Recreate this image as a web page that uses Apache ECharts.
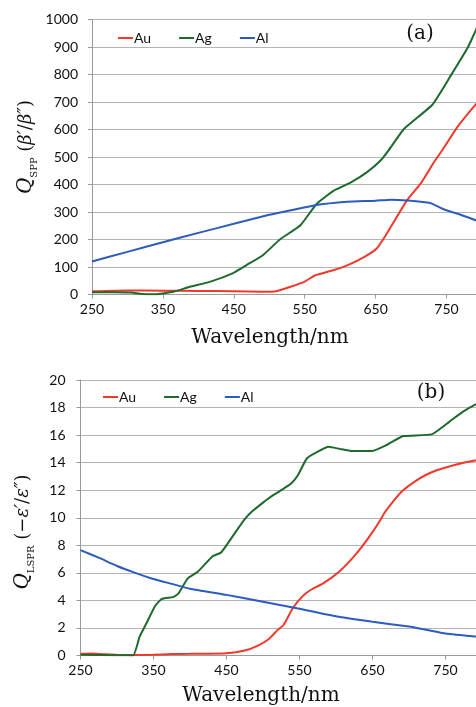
<!DOCTYPE html>
<html>
<head>
<meta charset="utf-8">
<script src="https://cdn.jsdelivr.net/npm/echarts@6/dist/echarts.min.js"></script>
<style>
  html, body { margin: 0; padding: 0; background: #ffffff; }
  #chart { width: 476px; height: 707px; }
</style>
</head>
<body>
<div id="chart"></div>
<script>
// Panel (a): SPP quality factor Q_SPP versus wavelength (nm)
const auSppNm = [250, 300, 350, 400, 450, 490, 510, 530, 550, 565, 590, 610, 635, 652, 666, 680, 695, 714, 732, 745, 765, 793, 800];
const auSppQ  = [12, 15, 14, 13, 12, 10, 12, 28, 47, 70, 88, 106, 138, 168, 222, 283, 345, 405, 480, 528, 608, 697, 715];

const agSppNm = [250, 280, 305, 320, 340, 350, 365, 388, 416, 449, 468, 491, 515, 544, 567, 591, 614, 638, 657, 668, 690, 730, 756, 780, 793, 800];
const agSppQ  = [8, 8, 7, 2, 1, 4, 10, 28, 46, 78, 107, 143, 200, 252, 330, 378, 406, 445, 487, 523, 602, 690, 796, 898, 970, 1005];

const alSppNm = [250, 300, 350, 400, 450, 500, 530, 563, 610, 650, 671, 695, 727, 746, 770, 793, 800];
const alSppQ  = [120, 155, 190, 224, 257, 290, 306, 324, 337, 341, 345, 342, 333, 310, 290, 268, 262];

// Panel (b): LSPR quality factor Q_LSPR versus wavelength (nm)
const auLsprNm = [250, 265, 280, 300, 325, 350, 375, 400, 450, 475, 493, 508, 521, 528, 541, 553, 564, 583, 605, 628, 644, 658, 667, 680, 692, 710, 731, 765, 790, 800];
const auLsprQ  = [0.12, 0.15, 0.1, 0.05, 0.03, 0.05, 0.1, 0.12, 0.17, 0.36, 0.72, 1.2, 1.9, 2.2, 3.45, 4.24, 4.72, 5.25, 6.12, 7.4, 8.5, 9.6, 10.4, 11.3, 12.0, 12.7, 13.3, 13.86, 14.15, 14.2];

const agLsprNm = [250, 300, 322, 331, 340, 352, 361, 377, 384, 397, 411, 431, 443, 461, 475, 486, 500, 510, 525, 539, 548, 560, 575, 590, 605, 622, 649, 670, 692, 731, 756, 774, 790, 800];
const agLsprQ  = [0.05, 0.02, 0, 1.37, 2.3, 3.57, 4.1, 4.24, 4.5, 5.6, 6.1, 7.2, 7.5, 8.85, 9.9, 10.5, 11.1, 11.5, 12.0, 12.5, 13.1, 14.3, 14.8, 15.15, 15.0, 14.84, 14.84, 15.3, 15.93, 16.05, 17.0, 17.7, 18.2, 18.4];

const alLsprNm = [250, 275, 300, 325, 350, 375, 400, 450, 500, 550, 600, 650, 700, 725, 750, 790, 800];
const alLsprQ  = [7.65, 7.1, 6.5, 6.0, 5.55, 5.2, 4.85, 4.4, 3.9, 3.4, 2.85, 2.45, 2.1, 1.85, 1.6, 1.38, 1.35];

const metals = ['Au', 'Ag', 'Al'];
const colors = { Au: '#f2382a', Ag: '#1d6a2c', Al: '#2c5cc0' };
const xTickStep = 100;
const ySppTicks = { min: 0, max: 1000, step: 100 };
const yLsprTicks = { min: 0, max: 20, step: 2 };

const pairs = (xs, ys) => xs.map((x, i) => [x, ys[i]]);

const tickFont = { fontFamily: 'Lato', fontSize: 14, color: '#111111' };
const serif = 'DejaVu Serif';

function xAxisFor(gridIndex, max) {
  return {
    type: 'value', gridIndex, min: 250, max, interval: xTickStep,
    axisLine: { show: true, onZero: false, lineStyle: { color: '#9a9a9a', width: 1 } },
    axisTick: { show: true, length: 4, lineStyle: { color: '#9a9a9a' } },
    axisLabel: Object.assign({ margin: 8, showMaxLabel: false, formatter: v => String(v) }, tickFont),
    splitLine: { show: false }
  };
}
function yAxisFor(gridIndex, t, margin) {
  return {
    type: 'value', gridIndex, min: t.min, max: t.max, interval: t.step,
    axisLine: { show: true, lineStyle: { color: '#9a9a9a', width: 1 } },
    axisTick: { show: true, length: 4, lineStyle: { color: '#9a9a9a' } },
    axisLabel: Object.assign({ margin, formatter: v => String(v) }, tickFont),
    splitLine: { show: true, lineStyle: { color: '#b4b4b4', width: 1 } }
  };
}
function lineSeries(name, idx, xs, ys) {
  return {
    type: 'line', name, xAxisIndex: idx, yAxisIndex: idx,
    data: pairs(xs, ys), showSymbol: false, smooth: 0.15,
    lineStyle: { color: colors[name], width: 2 }, itemStyle: { color: colors[name] },
    clip: true, animation: false
  };
}

const chart = echarts.init(document.getElementById('chart'), null, { renderer: 'canvas' });

const titleRich = {
  q: { fontFamily: serif, fontStyle: 'italic', fontSize: 20, lineHeight: 26, verticalAlign: 'middle', fill: '#111' },
  s: { fontFamily: serif, fontSize: 10, lineHeight: 10, verticalAlign: 'bottom', fill: '#111' },
  p: { fontFamily: serif, fontSize: 18, lineHeight: 26, verticalAlign: 'middle', fill: '#111' },
  b: { fontFamily: serif, fontStyle: 'italic', fontSize: 18, lineHeight: 26, verticalAlign: 'middle', fill: '#111' }
};

const legendText = { fontFamily: 'Lato', fontSize: 14, color: '#111111', padding: [0, 0, 0, -4] };

chart.setOption({
  backgroundColor: '#ffffff',
  animation: false,
  grid: [
    { left: 92, top: 19.5, width: 384, height: 275, containLabel: false },
    { left: 80.5, top: 380, width: 395.5, height: 275.5, containLabel: false }
  ],
  xAxis: [xAxisFor(0, 250 + 384 / 0.709), xAxisFor(1, 250 + 395.5 / 0.73)],
  yAxis: [yAxisFor(0, ySppTicks, 14), yAxisFor(1, yLsprTicks, 15)],
  legend: [
    { data: metals, left: 113, top: 26, icon: 'rect', itemWidth: 15, itemHeight: 2, itemGap: 28, textStyle: legendText, selectedMode: false },
    { data: metals, left: 98, top: 385, icon: 'rect', itemWidth: 15, itemHeight: 2, itemGap: 28, textStyle: legendText, selectedMode: false }
  ],
  series: [
    lineSeries('Au', 0, auSppNm, auSppQ),
    lineSeries('Ag', 0, agSppNm, agSppQ),
    lineSeries('Al', 0, alSppNm, alSppQ),
    lineSeries('Au', 1, auLsprNm, auLsprQ),
    lineSeries('Ag', 1, agLsprNm, agLsprQ),
    lineSeries('Al', 1, alLsprNm, alLsprQ)
  ],
  graphic: [
    { type: 'text', x: 420, y: 34, style: { text: '(a)', font: '20px "DejaVu Serif"', fill: '#111', align: 'center', verticalAlign: 'middle' } },
    { type: 'text', x: 431, y: 393, style: { text: '(b)', font: '20px "DejaVu Serif"', fill: '#111', align: 'center', verticalAlign: 'middle' } },
    { type: 'text', x: 270, y: 338, style: { text: 'Wavelength/nm', font: '20px "DejaVu Serif"', fill: '#111', align: 'center', verticalAlign: 'middle' } },
    { type: 'text', x: 261, y: 696, style: { text: 'Wavelength/nm', font: '20px "DejaVu Serif"', fill: '#111', align: 'center', verticalAlign: 'middle' } },
    {
      type: 'text', x: 26, y: 147, rotation: Math.PI / 2,
      style: { text: '{q|Q}{s|SPP}{p| (}{b|β′}{p|/}{b|β″}{p|)}', rich: titleRich, align: 'center', verticalAlign: 'middle' }
    },
    {
      type: 'text', x: 23, y: 532, rotation: Math.PI / 2,
      style: { text: '{q|Q}{s|LSPR}{p| (−}{b|ε′}{p|/}{b|ε″}{p|)}', rich: titleRich, align: 'center', verticalAlign: 'middle' }
    }
  ]
});
</script>
</body>
</html>
